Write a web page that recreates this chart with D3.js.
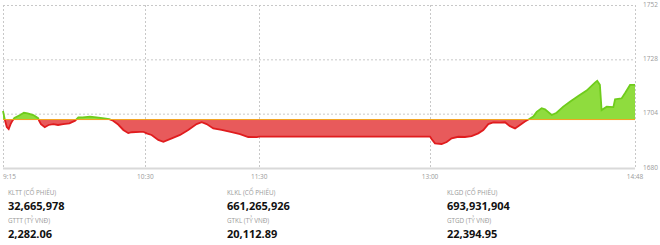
<!DOCTYPE html>
<html>
<head>
<meta charset="utf-8">
<script src="https://cdn.jsdelivr.net/npm/d3@7"></script>
<style>
  body { margin: 0; background: #fff; }
  svg { display: block; font-family: "Open Sans", Roboto, sans-serif; }
  .grid line { stroke: #c8c8c8; stroke-dasharray: 2,2; stroke-width: 1; }
  .tick-label { fill: #9a9a9a; font-size: 6.5px; }
  .stat-label { fill: #9a9a9a; font-size: 6.3px; }
  .stat-value { fill: #111; font-size: 11px; font-weight: 700; }
</style>
</head>
<body>
<script>
// intraday index, minutes after 9:15 and value
const minutes = [0, 1, 2, 3, 4, 5, 6, 9, 11, 13, 16, 18.5, 19, 20, 22, 24, 26.5, 29, 31.7, 35, 38, 39.7, 42, 45.8, 49.3, 52.4, 56, 58,
  60.7, 63.4, 66, 67.8, 72.2, 73.9, 75.7, 78.3, 81.8, 84.5, 88.9, 93.3, 97.6, 102, 104.7, 107.3, 110.8, 115.2, 120.5, 124.9, 129.2, 133.7, 135,
  225, 225.9, 227.6, 231.1, 233.8, 236.4, 239.9, 243.4, 246.9, 250.4, 253.1, 255.7, 258.3, 261.9, 264.5, 267.1, 269.8, 272.4, 275, 277.3,
  279.4, 281.2, 283.8, 285.6, 289.1, 291.7, 295.2, 298.7, 303.1, 307.5, 311.9, 313.1, 314.5, 315.4, 318.1, 321.6, 322.5, 326, 327.7, 330.4, 333];
const values = [1705.2, 1701.2, 1698.1, 1697.2, 1699.4, 1700.9, 1702.1, 1703.4, 1704.4, 1704.1, 1703.4, 1702.0, 1700.9, 1699.4, 1698.0, 1699.0, 1699.4, 1699.0, 1699.4, 1699.7, 1700.9, 1702.4, 1702.4, 1702.7, 1702.4, 1702.0, 1701.6, 1700.9,
  1699.2, 1696.8, 1695.4, 1695.8, 1696.0, 1696.0, 1695.3, 1694.6, 1692.4, 1691.6, 1693.1, 1694.6, 1696.8, 1699.4, 1700.2, 1699.4, 1697.5, 1696.8, 1695.8, 1695.0, 1693.7, 1693.6, 1693.9,
  1693.9, 1692.7, 1690.9, 1690.6, 1691.5, 1693.1, 1693.8, 1693.7, 1694.1, 1695.3, 1696.8, 1699.4, 1700.1, 1700.0, 1700.2, 1698.5, 1697.5, 1699.0, 1700.5, 1701.6,
  1702.7, 1704.8, 1706.4, 1705.9, 1703.4, 1704.4, 1707.1, 1709.3, 1711.8, 1714.2, 1717.7, 1718.5, 1716.7, 1705.6, 1707.1, 1706.9, 1710.3, 1710.8, 1713.0, 1716.7, 1716.7];
const refValue = 1701.4;

const yTicks = [1680, 1704, 1728, 1752];
const xTickLabels = ["9:15", "10:30", "11:30", "13:00", "14:48"];

const statLabels = [["KLTT (CỔ PHIẾU)", "GTTT (TỶ VNĐ)"], ["KLKL (CỔ PHIẾU)", "GTKL (TỶ VNĐ)"], ["KLGD (CỔ PHIẾU)", "GTGD (TỶ VNĐ)"]];
const statValues = [["32,665,978", "2,282.06"], ["661,265,926", "20,112.89"], ["693,931,904", "22,394.95"]];

const W = 660, H = 245;
const m = {left: 3, right: 635, top: 5, bottom: 168};

const parse = d3.timeParse("%H:%M");
const t0 = parse("9:15");
const toTime = mins => new Date(t0.getTime() + mins * 60000);
const data = minutes.map((mm, i) => ({t: toTime(mm), v: values[i]}));

const x = d3.scaleTime().domain([parse("9:15"), parse("14:48")]).range([m.left, m.right]);
const y = d3.scaleLinear().domain([1680, 1752]).range([m.bottom, m.top]);

const svg = d3.select("body").append("svg").attr("width", W).attr("height", H);

// grid
const grid = svg.append("g").attr("class", "grid");
grid.selectAll("line.h").data(yTicks.slice(1)).enter().append("line")
  .attr("x1", m.left).attr("x2", m.right)
  .attr("y1", d => y(d) + 0.5).attr("y2", d => y(d) + 0.5);
grid.selectAll("line.v").data(xTickLabels).enter().append("line")
  .attr("x1", d => Math.round(x(parse(d))) + 0.5).attr("x2", d => Math.round(x(parse(d))) + 0.5)
  .attr("y1", m.top).attr("y2", m.bottom);

svg.append("line")
  .attr("x1", m.left).attr("x2", m.right)
  .attr("y1", m.bottom + 0.5).attr("y2", m.bottom + 0.5)
  .attr("stroke", "#d9d9d9").attr("stroke-width", 2);

// clip regions above / below reference
const yRef = y(refValue);
const defs = svg.append("defs");
defs.append("clipPath").attr("id", "above").append("rect")
  .attr("x", 0).attr("y", 0).attr("width", W).attr("height", yRef);
defs.append("clipPath").attr("id", "below").append("rect")
  .attr("x", 0).attr("y", yRef).attr("width", W).attr("height", H - yRef);

const area = d3.area().x(d => x(d.t)).y0(yRef).y1(d => y(d.v));
const line = d3.line().x(d => x(d.t)).y(d => y(d.v));

const parts = [
  {clip: "above", fill: "#8fdc3e", stroke: "#6fcc1c"},
  {clip: "below", fill: "#e85a5b", stroke: "#e01c1e"}
];
parts.forEach(p => {
  const g = svg.append("g").attr("clip-path", `url(#${p.clip})`);
  g.append("path").datum(data).attr("d", area).attr("fill", p.fill);
  g.append("path").datum(data).attr("d", line)
    .attr("fill", "none").attr("stroke", p.stroke).attr("stroke-width", 1.8);
});

svg.append("line")
  .attr("x1", m.left).attr("x2", m.right)
  .attr("y1", yRef).attr("y2", yRef)
  .attr("stroke", "#f3a21f").attr("stroke-width", 1);

// axis labels
svg.selectAll("text.ylab").data(yTicks).enter().append("text")
  .attr("class", "tick-label")
  .attr("x", 643).attr("y", d => y(d))
  .attr("dominant-baseline", "middle")
  .text(d => d);

svg.selectAll("text.xlab").data(xTickLabels).enter().append("text")
  .attr("class", "tick-label")
  .attr("x", d => x(parse(d)))
  .attr("y", 178.5)
  .attr("text-anchor", (d, i) => i === 0 ? "start" : "middle")
  .text(d => d);

// stats
const colX = [8, 227, 447];
statLabels.forEach((labels, c) => {
  const g = svg.append("g").attr("transform", `translate(${colX[c]},0)`);
  [0, 1].forEach(r => {
    g.append("text").attr("class", "stat-label")
      .attr("x", 0).attr("y", 194.5 + r * 28.5).text(labels[r]);
    g.append("text").attr("class", "stat-value")
      .attr("x", 0).attr("y", 210 + r * 28.3).text(statValues[c][r]);
  });
});
</script>
</body>
</html>
